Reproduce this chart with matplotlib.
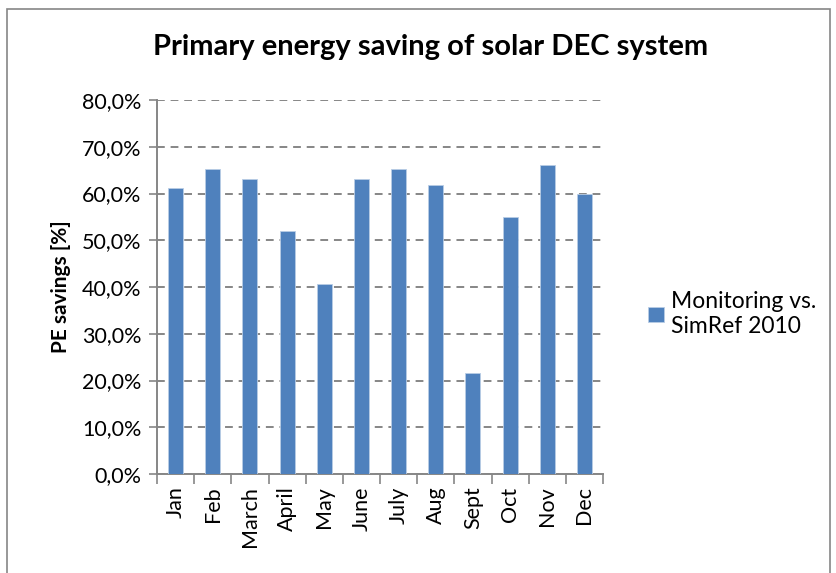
import matplotlib
matplotlib.use('Agg')
import matplotlib.pyplot as plt
import numpy as np
from matplotlib.patches import Rectangle
from matplotlib.ticker import FuncFormatter, MultipleLocator

# Data
months = ['Jan', 'Feb', 'March', 'April', 'May', 'June', 'July', 'Aug', 'Sept', 'Oct', 'Nov', 'Dec']
pe_savings = [61.2, 65.3, 63.1, 51.9, 40.7, 63.1, 65.3, 61.9, 21.6, 54.9, 66.2, 59.8]
series_name = 'Monitoring vs.\nSimRef 2010'

plt.rcParams['font.family'] = ['Lato', 'DejaVu Sans']

W, H = 836, 573
fig = plt.figure(figsize=(W / 100, H / 100), dpi=100)
ax = fig.add_axes([157 / W, 1 - 474 / H, (603 - 157) / W, (474 - 100) / H])

x = np.arange(len(months))
bars = ax.bar(x, pe_savings, width=0.4, color='#4f81bd', edgecolor='#b9cde5', linewidth=0.6,
              label=series_name, zorder=3)

ax.set_xlim(-0.5, len(months) - 0.5)
ax.set_ylim(0, 80)
ax.yaxis.set_major_locator(MultipleLocator(10))
ax.yaxis.set_major_formatter(FuncFormatter(lambda v, p: f'{v:.1f}%'.replace('.', ',')))
ax.grid(axis='y', color='#868686', linestyle=(0, (4, 3)), linewidth=1.4, zorder=0)

ax.set_xticks(x)
ax.set_xticklabels(months, rotation=90, fontsize=15.5)
ax.set_xticks(np.arange(-0.5, len(months)), minor=True)
ax.tick_params(axis='x', which='major', length=0, pad=9)
ax.tick_params(axis='x', which='minor', length=7, color='#868686', width=1.2)
ax.tick_params(axis='y', length=6, color='#868686', width=1.2, labelsize=15.5, pad=5)

for side in ['top', 'right']:
    ax.spines[side].set_visible(False)
for side in ['left', 'bottom']:
    ax.spines[side].set_color('#868686')
    ax.spines[side].set_linewidth(1.4)

ax.set_ylabel('PE savings [%]', fontsize=15, fontweight='bold', labelpad=8)
fig.text(431 / W, 1 - 47 / H, 'Primary energy saving of solar DEC system',
         ha='center', va='center', fontsize=21, fontweight='bold')

ax.legend(loc='center left', bbox_to_anchor=(627 / W, 1 - 314 / H), bbox_transform=fig.transFigure,
          frameon=False, fontsize=16.5, handlelength=0.7, handleheight=0.65, handletextpad=0.3,
          labelspacing=0.3)

# outer chart frame (bottom edge runs off the picture)
fig.patches.append(Rectangle((7 / W, -0.05), (830 - 7) / W, 1.05 - 9 / H, transform=fig.transFigure,
                             fill=False, edgecolor='#868686', linewidth=1.2))

fig.savefig('out.png', dpi=100)
